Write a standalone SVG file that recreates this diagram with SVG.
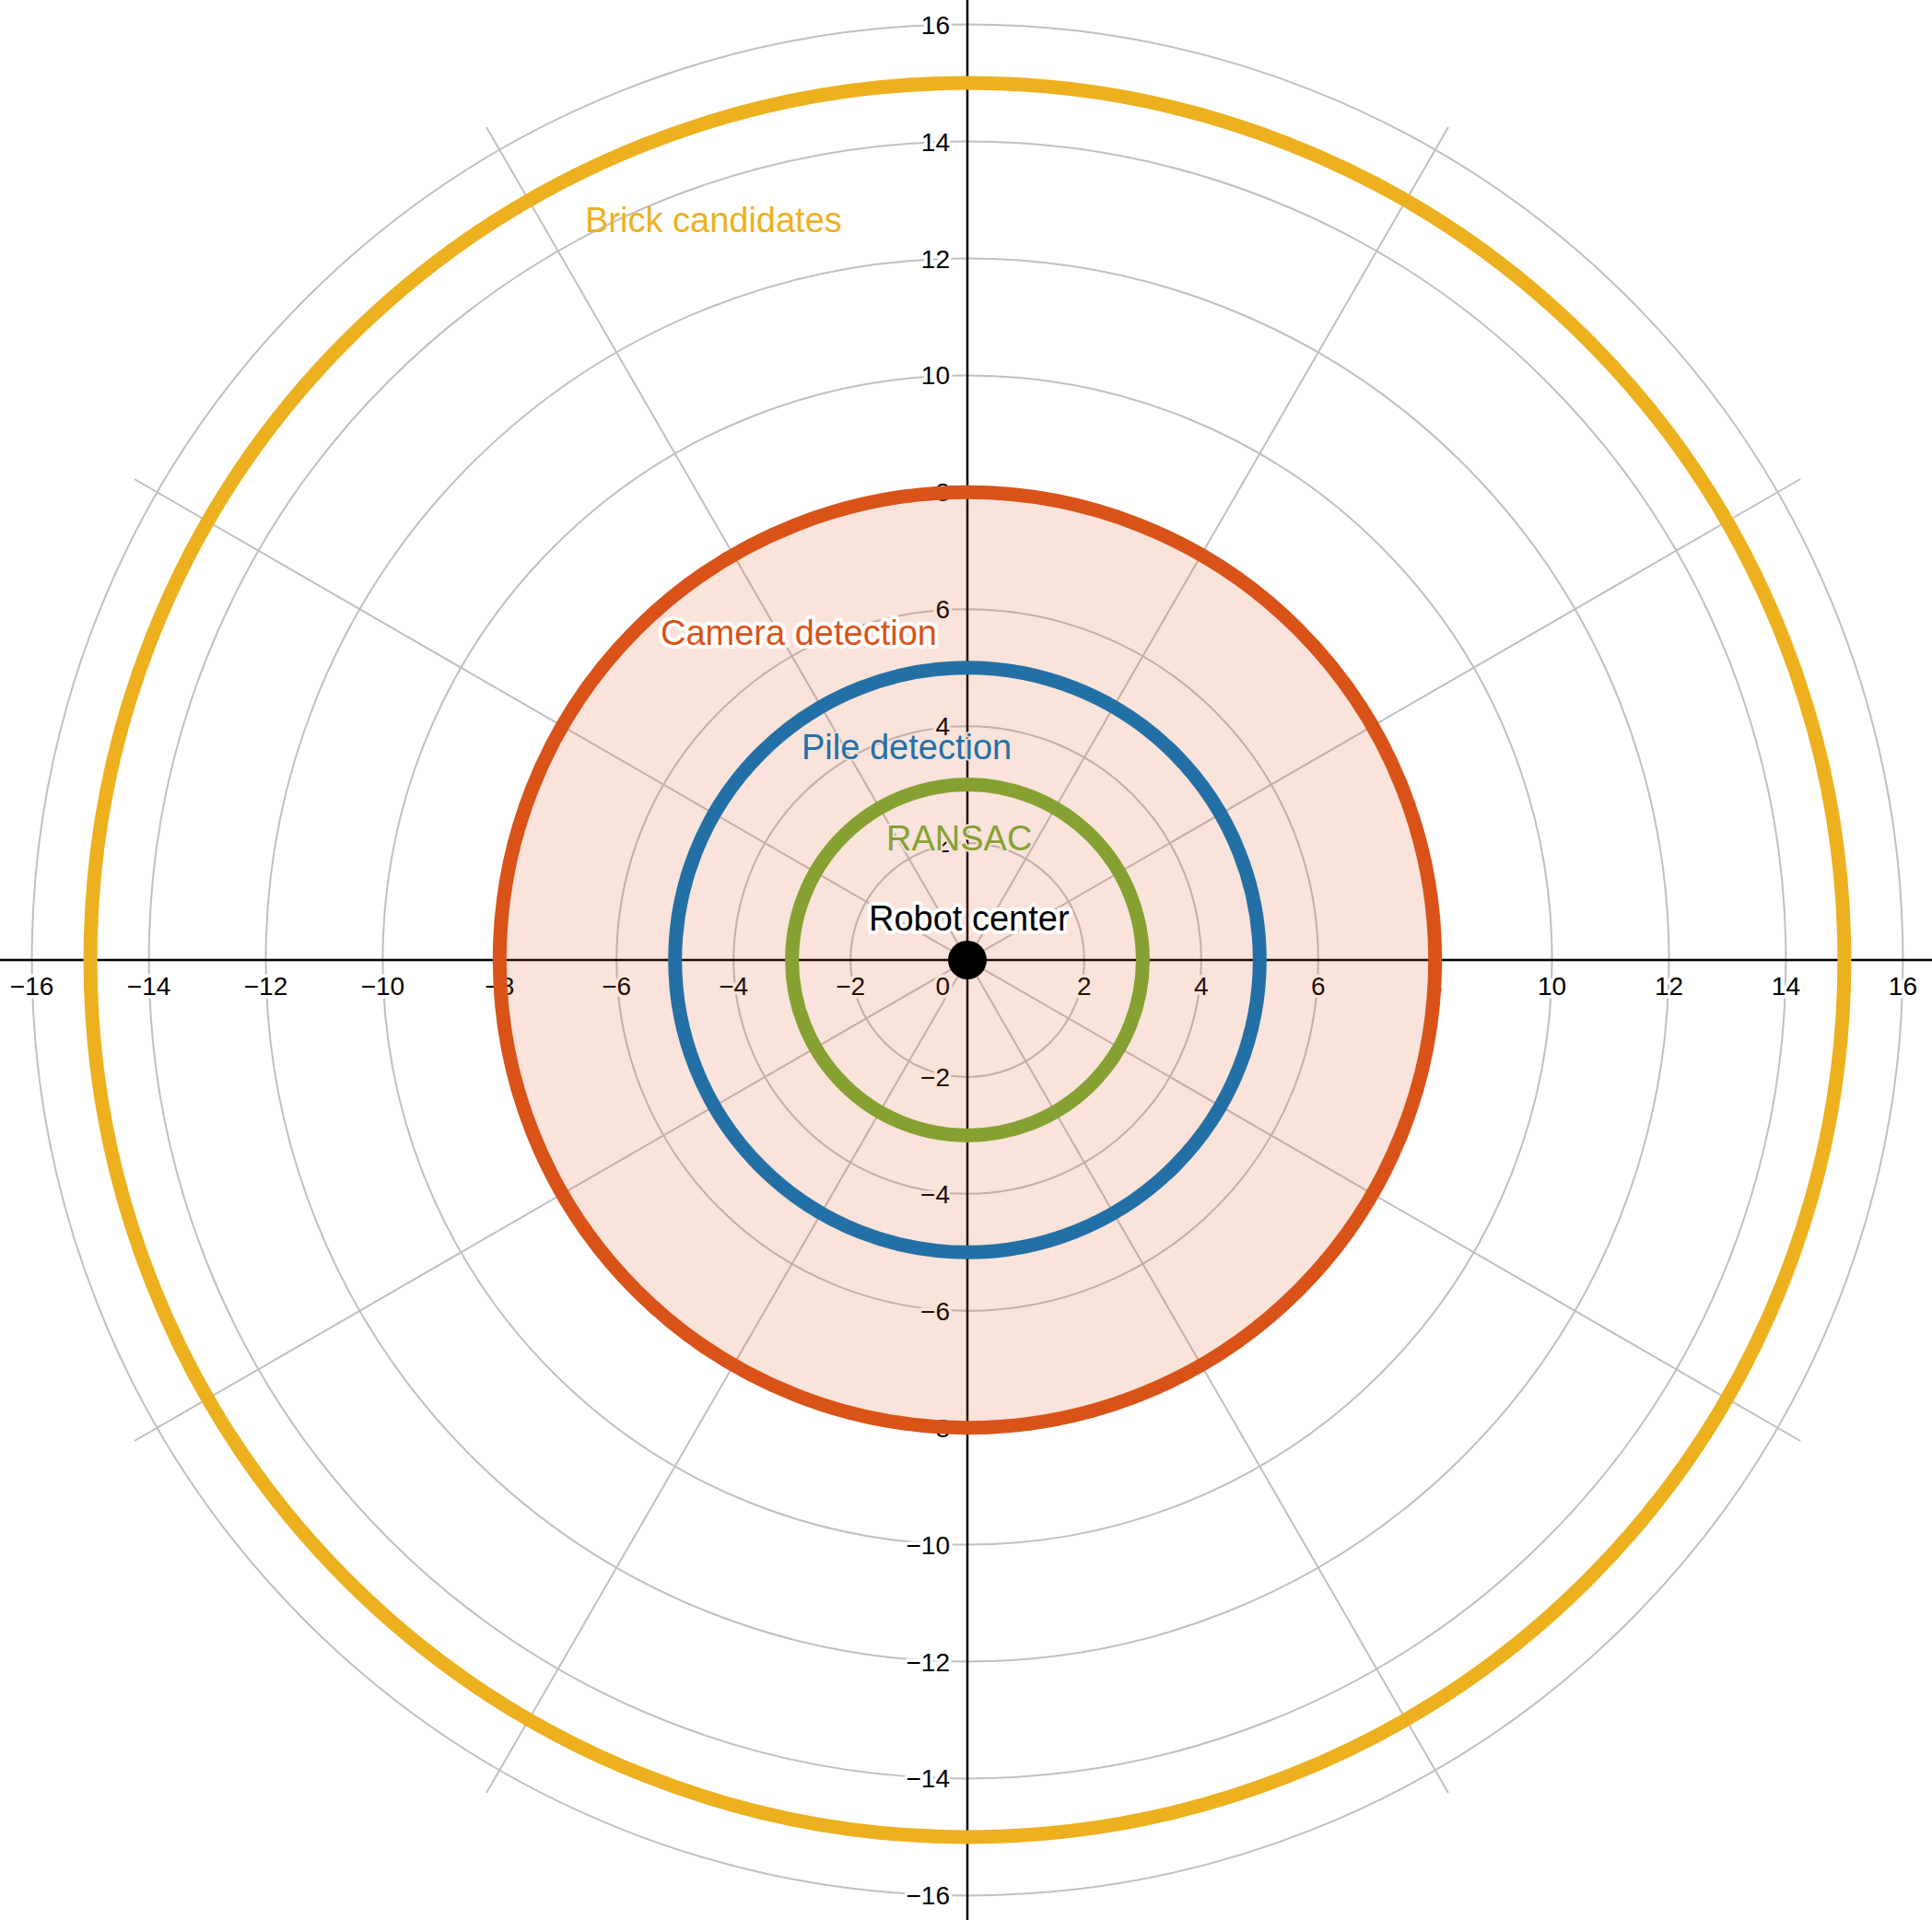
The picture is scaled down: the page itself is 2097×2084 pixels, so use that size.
<svg xmlns="http://www.w3.org/2000/svg" width="2097" height="2084" viewBox="0 0 2097 2084">
<style>
.grid{fill:none;stroke:#c0c0c0;stroke-width:2}
.axis{stroke:#000;stroke-width:2.5}
.tick{font-family:"Liberation Sans",Arial,sans-serif;font-size:28px;fill:#000;stroke:#fff;stroke-width:7;paint-order:stroke;stroke-linejoin:round}
.tx{text-anchor:middle}
.ty{text-anchor:end}
.ring{fill:none;stroke-width:15}
.lbl{font-family:"Liberation Sans",Arial,sans-serif;font-size:38px;paint-order:stroke;stroke-linejoin:round}
</style>
<rect width="2097" height="2084" fill="#fff"/>
<g id="grid">
<circle class="grid" cx="1050" cy="1042" r="126.9"/>
<circle class="grid" cx="1050" cy="1042" r="253.8"/>
<circle class="grid" cx="1050" cy="1042" r="380.8"/>
<circle class="grid" cx="1050" cy="1042" r="507.7"/>
<circle class="grid" cx="1050" cy="1042" r="634.6"/>
<circle class="grid" cx="1050" cy="1042" r="761.5"/>
<circle class="grid" cx="1050" cy="1042" r="888.4"/>
<circle class="grid" cx="1050" cy="1042" r="1015.4"/>
<line class="grid" x1="145.9" y1="520" x2="1954.1" y2="1564"/>
<line class="grid" x1="528" y1="137.9" x2="1572" y2="1946.1"/>
<line class="grid" x1="1572" y1="137.9" x2="528" y2="1946.1"/>
<line class="grid" x1="1954.1" y1="520" x2="145.9" y2="1564"/>
</g>
<g id="axes">
<line class="axis" x1="0" y1="1042" x2="2097" y2="1042"/>
<line class="axis" x1="1050" y1="0" x2="1050" y2="2084"/>
</g>
<g id="ticks">
<text class="tick tx" x="34.6" y="1080">−16</text>
<text class="tick tx" x="161.6" y="1080">−14</text>
<text class="tick tx" x="288.5" y="1080">−12</text>
<text class="tick tx" x="415.4" y="1080">−10</text>
<text class="tick tx" x="542.3" y="1080">−8</text>
<text class="tick tx" x="669.2" y="1080">−6</text>
<text class="tick tx" x="796.2" y="1080">−4</text>
<text class="tick tx" x="923.1" y="1080">−2</text>
<text class="tick ty" x="1031" y="1080">0</text>
<text class="tick tx" x="1176.9" y="1080">2</text>
<text class="tick tx" x="1303.8" y="1080">4</text>
<text class="tick tx" x="1430.8" y="1080">6</text>
<text class="tick tx" x="1557.7" y="1080">8</text>
<text class="tick tx" x="1684.6" y="1080">10</text>
<text class="tick tx" x="1811.5" y="1080">12</text>
<text class="tick tx" x="1938.4" y="1080">14</text>
<text class="tick tx" x="2065.4" y="1080">16</text>
<text class="tick ty" x="1031" y="36.6">16</text>
<text class="tick ty" x="1031" y="163.6">14</text>
<text class="tick ty" x="1031" y="290.5">12</text>
<text class="tick ty" x="1031" y="417.4">10</text>
<text class="tick ty" x="1031" y="544.3">8</text>
<text class="tick ty" x="1031" y="671.2">6</text>
<text class="tick ty" x="1031" y="798.2">4</text>
<text class="tick ty" x="1031" y="925.1">2</text>
<text class="tick ty" x="1031" y="1178.9">−2</text>
<text class="tick ty" x="1031" y="1305.8">−4</text>
<text class="tick ty" x="1031" y="1432.8">−6</text>
<text class="tick ty" x="1031" y="1559.7">−8</text>
<text class="tick ty" x="1031" y="1686.6">−10</text>
<text class="tick ty" x="1031" y="1813.5">−12</text>
<text class="tick ty" x="1031" y="1940.4">−14</text>
<text class="tick ty" x="1031" y="2067.4">−16</text>
</g>
<g id="camera-fill">
<circle cx="1050" cy="1042" r="507.7" fill="#D95319" fill-opacity="0.16"/>
</g>
<g id="brick-candidates">
<circle class="ring" cx="1050" cy="1042" r="951.9" stroke="#EDB120"/>
<text class="lbl" x="635" y="252" fill="#EDB120">Brick candidates</text>
</g>
<g id="camera-detection">
<circle class="ring" cx="1050" cy="1042" r="507.7" stroke="#D95319"/>
<text class="lbl" x="717" y="700" fill="#D95319" stroke="#fff" stroke-width="8">Camera detection</text>
</g>
<g id="pile-detection">
<circle class="ring" cx="1050" cy="1042" r="317.3" stroke="#2370A6"/>
<text class="lbl" x="870" y="824" fill="#2370A6" stroke="#F8E3DB" stroke-width="3">Pile detection</text>
</g>
<g id="ransac">
<circle class="ring" cx="1050" cy="1042" r="190.4" stroke="#86A132"/>
<text class="lbl" x="962" y="923" fill="#86A132" stroke="#F8E3DB" stroke-width="4">RANSAC</text>
</g>
<g id="robot-center">
<circle cx="1050" cy="1042" r="21" fill="#000"/>
<text class="lbl" x="943" y="1010" fill="#000" stroke="#fff" stroke-width="8">Robot center</text>
</g>
</svg>
